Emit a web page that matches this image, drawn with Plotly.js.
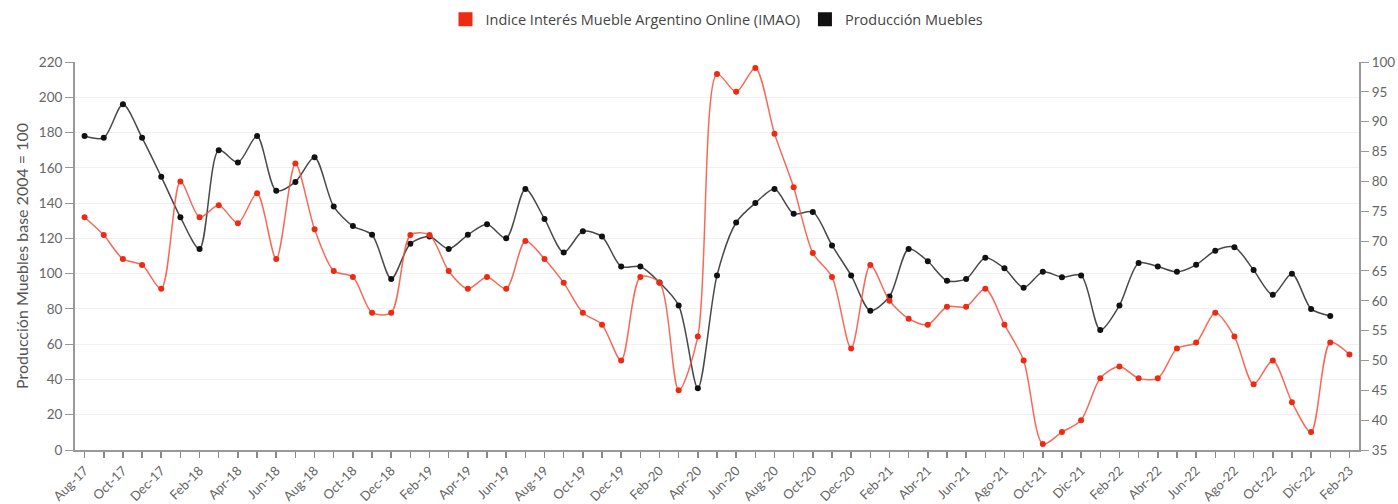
<!DOCTYPE html>
<html>
<head>
<meta charset="utf-8">
<script src="https://cdn.plot.ly/plotly-3.0.1.min.js"></script>
<style>html,body{margin:0;padding:0;background:#fff;}#chart{width:1398px;height:504px;}</style>
</head>
<body>
<div id="chart"></div>
<script>
const months = ["Aug-17","Sep-17","Oct-17","Nov-17","Dec-17","Jan-18","Feb-18","Mar-18","Apr-18","May-18","Jun-18","Jul-18",
"Aug-18","Sep-18","Oct-18","Nov-18","Dec-18","Jan-19","Feb-19","Mar-19","Apr-19","May-19","Jun-19","Jul-19",
"Aug-19","Sep-19","Oct-19","Nov-19","Dec-19","Jan-20","Feb-20","Mar-20","Apr-20","May-20","Jun-20","Jul-20",
"Aug-20","Sep-20","Oct-20","Nov-20","Dec-20","Jan-21","Feb-21","Mar-21","Abr-21","May-21","Jun-21","Jul-21",
"Ago-21","Sep-21","Oct-21","Nov-21","Dic-21","Ene-22","Feb-22","Mar-22","Abr-22","May-22","Jun-22","Jul-22",
"Ago-22","Sep-22","Oct-22","Nov-22","Dic-22","Ene-23","Feb-23"];

const imao = [74,71,67,66,62,80,74,76,73,78,67,83,
72,65,64,58,58,71,71,65,62,64,62,70,
67,63,58,56,50,64,63,45,54,98,95,99,
88,79,68,64,52,66,60,57,56,59,59,62,
56,50,36,38,40,47,49,47,47,52,53,58,
54,46,50,43,38,53,51];

const produccion = [178,177,196,177,155,132,114,170,163,178,147,152,
166,138,127,122,97,117,121,114,122,128,120,148,
131,112,124,121,104,104,95,82,35,99,129,140,
148,134,135,116,99,79,87,114,107,96,97,109,
103,92,101,98,99,68,82,106,104,101,105,113,
115,102,88,100,80,76];

const RED = "#ee2a12";
const GREY = "#666";
const font = "Lato, 'Open Sans', sans-serif";

const traces = [
  {x: months, y: produccion, type:"scatter", mode:"lines+markers", yaxis:"y", showlegend:false,
   line:{color:"rgba(40,40,40,0.85)", width:1.5, shape:"spline", smoothing:0.8},
   marker:{color:"#111", size:6}},
  {x: months, y: imao, type:"scatter", mode:"lines+markers", yaxis:"y2", showlegend:false,
   line:{color:"rgba(245,80,60,0.85)", width:1.5, shape:"spline", smoothing:0.8},
   marker:{color:RED, size:6}},
  {x:[null], y:[null], type:"scatter", mode:"markers", name:"Indice Interés Mueble Argentino Online (IMAO)",
   marker:{color:RED, symbol:"square", size:14}},
  {x:[null], y:[null], type:"scatter", mode:"markers", name:"Producción Muebles",
   marker:{color:"#111", symbol:"square", size:14}}
];

const layout = {
  width:1398, height:504,
  margin:{l:75, r:39, t:62, b:54},
  paper_bgcolor:"#fff", plot_bgcolor:"#fff",
  font:{family:font, size:12, color:GREY},
  showlegend:true,
  legend:{orientation:"h", x:0.5, xanchor:"center", y:0.93, yanchor:"bottom", yref:"container",
          font:{family:"'Open Sans', sans-serif", size:14.5, color:"#444"}, itemwidth:20},
  xaxis:{type:"category", categoryorder:"array", categoryarray:months,
         range:[-0.5, months.length-0.5],
         tickmode:"array", tickvals:months, ticktext:months.map((m,i)=>i%2===0?m:""),
         tickangle:-45, ticks:"outside", ticklen:6, tickcolor:"#888", tickwidth:1.5,
         showline:true, linecolor:"#999", linewidth:2, showgrid:false, zeroline:false,
         tickfont:{size:13, color:GREY}},
  yaxis:{range:[0,220], dtick:20, tick0:0, showline:true, linecolor:"#999", linewidth:2,
         ticks:"outside", ticklen:8, tickcolor:"#999", gridcolor:"#f0f0f0", zeroline:false,
         tickfont:{size:13.5, color:GREY},
         title:{text:"Producción Muebles base 2004 = 100", font:{size:16, color:"#555"}, standoff:6}},
  yaxis2:{range:[35,100], dtick:5, tick0:35, overlaying:"y", side:"right", showline:true,
          linecolor:"#999", linewidth:2, ticks:"outside", ticklen:8, tickcolor:"#999",
          showgrid:false, zeroline:false, tickfont:{size:13.5, color:GREY}}
};

Plotly.newPlot("chart", traces, layout, {displayModeBar:false, staticPlot:true});
</script>
</body>
</html>
